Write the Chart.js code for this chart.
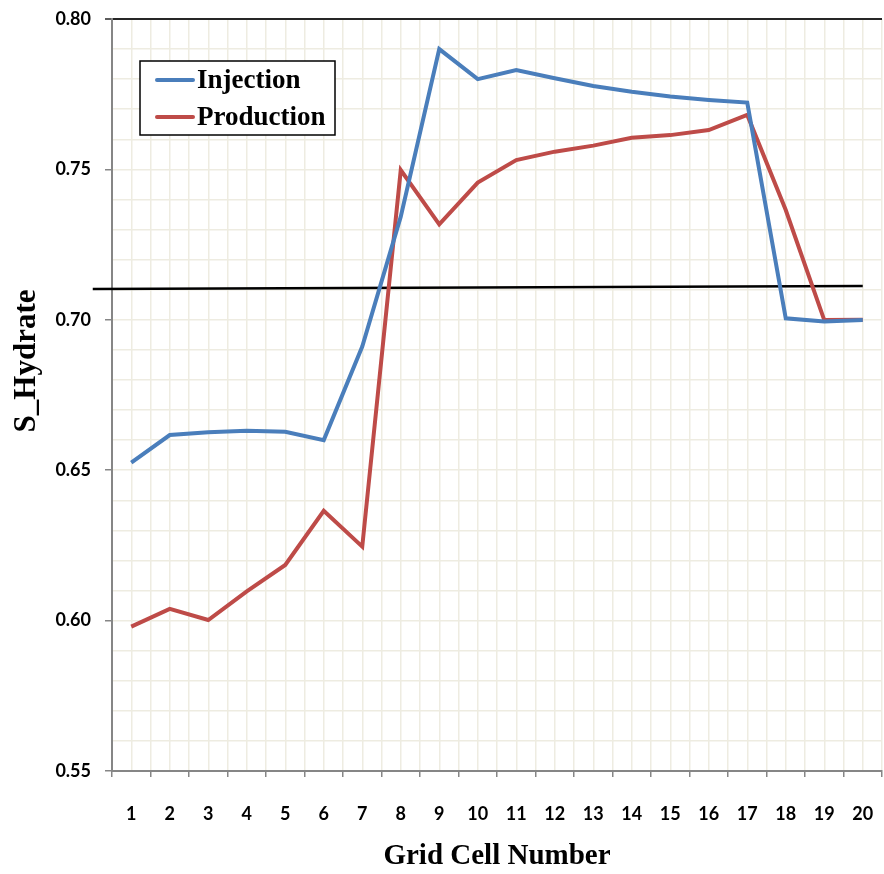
<!DOCTYPE html>
<html>
<head>
<meta charset="utf-8">
<script src="https://cdn.jsdelivr.net/npm/chart.js@4"></script>
<style>
  html, body { margin: 0; padding: 0; background: #fff; }
  #wrap { width: 884px; height: 874px; }
</style>
</head>
<body>
<div id="wrap"><canvas id="hydrateChart" width="884" height="874"></canvas></div>
<script>
// values
const cells = [1, 2, 3, 4, 5, 6, 7, 8, 9, 10, 11, 12, 13, 14, 15, 16, 17, 18, 19, 20];
const injection = [0.6525, 0.6617, 0.6626, 0.6631, 0.6628, 0.6600, 0.6911, 0.7343, 0.7900, 0.7800,
                   0.7830, 0.7803, 0.7777, 0.7758, 0.7742, 0.7731, 0.7722, 0.7005, 0.6994, 0.6999];
const production = [0.5980, 0.6039, 0.6002, 0.6097, 0.6185, 0.6365, 0.6246, 0.7498, 0.7317, 0.7456,
                    0.7531, 0.7559, 0.7579, 0.7605, 0.7614, 0.7631, 0.7681, 0.7365, 0.6999, 0.7000];
// the black reference line across the plot
const refLineX = [0, 20];
const refLineY = [0.7102, 0.7112];

const yMin = 0.55, yMax = 0.80;

const GRID = '#EEECE1';
const AXIS = '#868686';

function isMajorY(v) { return Math.round(v * 100) % 5 === 0; }
function isCell(v) { return Math.abs(v - Math.round(v)) < 1e-6; }

// legend box drawn inside the plot, from the dataset labels/colours
const boxLegend = {
  id: 'boxLegend',
  afterDraw(chart) {
    const ctx = chart.ctx;
    const x0 = 140, y0 = 61, w = 195, h = 74;
    ctx.save();
    ctx.fillStyle = '#fff';
    ctx.fillRect(x0, y0, w, h);
    ctx.strokeStyle = '#000';
    ctx.lineWidth = 1.5;
    ctx.strokeRect(x0, y0, w, h);
    chart.data.datasets.slice(0, 2).forEach((ds, i) => {
      const y = y0 + 19 + i * 37;
      ctx.strokeStyle = ds.borderColor;
      ctx.lineWidth = 4;
      ctx.lineCap = 'round';
      ctx.beginPath();
      ctx.moveTo(x0 + 17, y);
      ctx.lineTo(x0 + 53, y);
      ctx.stroke();
      ctx.fillStyle = '#000';
      ctx.font = 'bold 27px "Liberation Serif"';
      ctx.textBaseline = 'middle';
      ctx.textAlign = 'left';
      ctx.fillText(ds.label, x0 + 57, y + 1);
    });
    ctx.restore();
  }
};

// y axis title, placed where the reference has it
const yTitle = {
  id: 'yTitle',
  afterDraw(chart) {
    const ctx = chart.ctx;
    ctx.save();
    ctx.translate(27, 361);
    ctx.rotate(-Math.PI / 2);
    ctx.font = 'bold 31px "Liberation Serif"';
    ctx.fillStyle = '#000';
    ctx.textAlign = 'center';
    ctx.textBaseline = 'middle';
    ctx.fillText('S_Hydrate', 0, 0);
    ctx.restore();
  }
};

const ctx = document.getElementById('hydrateChart').getContext('2d');
new Chart(ctx, {
  type: 'line',
  data: {
    datasets: [
      {
        label: 'Injection',
        data: cells.map((c, i) => ({ x: c, y: injection[i] })),
        borderColor: '#4A7EBB',
        borderWidth: 4,
        pointRadius: 0,
        fill: false
      },
      {
        label: 'Production',
        data: cells.map((c, i) => ({ x: c, y: production[i] })),
        borderColor: '#BE4B48',
        borderWidth: 4,
        pointRadius: 0,
        fill: false
      },
      {
        label: 'ref',
        data: refLineX.map((x, i) => ({ x: x, y: refLineY[i] })),
        borderColor: '#000',
        borderWidth: 2.5,
        pointRadius: 0,
        clip: false
      }
    ]
  },
  options: {
    responsive: false,
    animation: false,
    layout: { padding: { left: 0, right: 2, top: 19, bottom: 0 } },
    plugins: {
      legend: { display: false },
      tooltip: { enabled: false }
    },
    scales: {
      x: {
        type: 'linear',
        min: 0.5,
        max: 20.5,
        afterFit: s => { s.height = 103; s.paddingLeft = 0; s.paddingRight = 0; },
        afterBuildTicks: s => {
          const t = [];
          for (let k = 1; k <= 41; k++) t.push({ value: k / 2 });
          s.ticks = t;
        },
        ticks: {
          autoSkip: false,
          maxRotation: 0,
          padding: 26,
          color: '#000',
          font: { family: 'Lato', weight: 'bold', size: 18 },
          callback: v => (isCell(v) ? String(Math.round(v)) : '')
        },
        grid: {
          color: GRID,
          lineWidth: 1.5,
          tickLength: 6,
          tickColor: c => (isCell(c.tick.value) ? 'rgba(0,0,0,0)' : AXIS),
          tickWidth: 1.5
        },
        border: { color: AXIS, width: 2 },
        title: {
          display: true,
          text: 'Grid Cell Number',
          color: '#000',
          font: { family: 'Liberation Serif', weight: 'bold', size: 29 },
          padding: { top: 0, bottom: 0 }
        }
      },
      y: {
        min: yMin,
        max: yMax,
        afterFit: s => { s.width = 112; s.paddingTop = 0; s.paddingBottom = 0; },
        ticks: {
          stepSize: 0.01,
          autoSkip: false,
          padding: 14,
          color: '#000',
          font: { family: 'Lato', weight: 'bold', size: 18 },
          callback: v => (isMajorY(v) ? v.toFixed(2) : '')
        },
        grid: {
          color: c => (Math.abs(c.tick.value - yMax) < 1e-6 ? '#262626' : GRID),
          lineWidth: c => (Math.abs(c.tick.value - yMax) < 1e-6 ? 2 : 1.5),
          tickLength: 7,
          tickColor: c => (Math.abs(c.tick.value - yMax) < 1e-6 ? '#262626'
                          : (isMajorY(c.tick.value) ? AXIS : 'rgba(0,0,0,0)')),
          tickWidth: 1.5
        },
        border: { color: AXIS, width: 2 }
      }
    }
  },
  plugins: [boxLegend, yTitle]
});
</script>
</body>
</html>
